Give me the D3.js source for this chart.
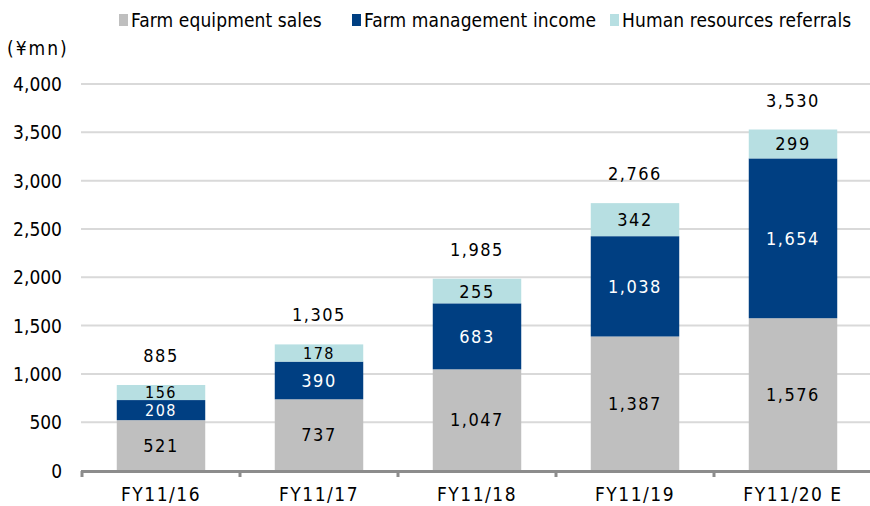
<!DOCTYPE html>
<html>
<head>
<meta charset="utf-8">
<script src="https://cdn.jsdelivr.net/npm/d3@7"></script>
<style>
  body { margin: 0; background: #fff; overflow: hidden; }
  text { font-family: "DejaVu Sans Condensed", "Liberation Sans Narrow", sans-serif; }
</style>
</head>
<body>
<script>
var categories = ["FY11/16", "FY11/17", "FY11/18", "FY11/19", "FY11/20 E"];
var seriesNames = ["Farm equipment sales", "Farm management income", "Human resources referrals"];
var equipment = [521, 737, 1047, 1387, 1576];
var management = [208, 390, 683, 1038, 1654];
var referrals = [156, 178, 255, 342, 299];
var totals = [885, 1305, 1985, 2766, 3530];
var yTicks = [0, 500, 1000, 1500, 2000, 2500, 3000, 3500, 4000];

var colors = ["#bfbfbf", "#003f82", "#b7dfe2"];
var labelColors = ["#000", "#fff", "#000"];

var width = 870, height = 506;
var svg = d3.select("body").append("svg")
    .attr("width", width)
    .attr("height", height);

var x = d3.scaleBand()
    .domain(categories)
    .range([82, 872])
    .paddingInner(0.44)
    .paddingOuter(0.22);

var y = d3.scaleLinear()
    .domain([0, 4000])
    .range([470.5, 84]);

// gridlines
svg.selectAll("line.grid")
    .data(yTicks.slice(1))
    .enter()
    .append("line")
    .attr("x1", 81)
    .attr("x2", width)
    .attr("y1", (d) => y(d))
    .attr("y2", (d) => y(d))
    .attr("stroke", "#d9d9d9")
    .attr("stroke-width", 2);

// y tick labels
svg.selectAll("text.ytick")
    .data(yTicks)
    .enter()
    .append("text")
    .attr("x", 62)
    .attr("y", (d) => y(d) + 7)
    .attr("text-anchor", "end")
    .attr("font-size", "19px")
    .attr("fill", "#000")
    .text((d) => d3.format(",")(d));

svg.append("text")
    .attr("x", 7)
    .attr("y", 55)
    .attr("font-size", "19px")
    .attr("letter-spacing", "2px")
    .text("(¥mn)");

// stacked bars
var table = categories.map((c, i) => ({
    cat: c,
    s0: equipment[i],
    s1: management[i],
    s2: referrals[i]
}));
var stack = d3.stack().keys(["s0", "s1", "s2"])(table);

stack.forEach((layer, k) => {
    svg.selectAll("rect.s" + k)
        .data(layer)
        .enter()
        .append("rect")
        .attr("x", (d) => x(d.data.cat))
        .attr("y", (d) => y(d[1]))
        .attr("width", x.bandwidth())
        .attr("height", (d) => y(d[0]) - y(d[1]))
        .attr("fill", colors[k]);

    // thin segments get a slightly smaller label so neighbours don't collide
    svg.selectAll("text.s" + k)
        .data(layer)
        .enter()
        .append("text")
        .attr("x", (d) => x(d.data.cat) + x.bandwidth() / 2)
        .attr("y", (d) => {
            let h = y(d[0]) - y(d[1]);
            return (y(d[0]) + y(d[1])) / 2 + (h < 22 ? 5.5 : 6.5);
        })
        .attr("text-anchor", "middle")
        .attr("font-size", (d) => (y(d[0]) - y(d[1]) < 22 ? "16px" : "18px"))
        .attr("letter-spacing", "1.5px")
        .attr("fill", labelColors[k])
        .text((d) => d3.format(",")(d[1] - d[0]));
});

// totals
svg.selectAll("text.total")
    .data(totals)
    .enter()
    .append("text")
    .attr("x", (d, i) => x(categories[i]) + x.bandwidth() / 2)
    .attr("y", (d, i) => y(stack[2][i][1]) - 23)
    .attr("text-anchor", "middle")
    .attr("font-size", "18px")
    .attr("letter-spacing", "1.5px")
    .attr("fill", "#000")
    .text((d) => d3.format(",")(d));

// x axis
var step = x.step();
svg.append("line")
    .attr("x1", 81)
    .attr("x2", width)
    .attr("y1", 471.5)
    .attr("y2", 471.5)
    .attr("stroke", "#8c8c8c")
    .attr("stroke-width", 3);

svg.selectAll("line.xtick")
    .data(d3.range(categories.length))
    .enter()
    .append("line")
    .attr("x1", (d) => x(categories[d]) - (step - x.bandwidth()) / 2)
    .attr("x2", (d) => x(categories[d]) - (step - x.bandwidth()) / 2)
    .attr("y1", 471)
    .attr("y2", 477)
    .attr("stroke", "#8c8c8c")
    .attr("stroke-width", 3);

svg.selectAll("text.xlab")
    .data(categories)
    .enter()
    .append("text")
    .attr("x", (d) => x(d) + x.bandwidth() / 2)
    .attr("y", 501)
    .attr("text-anchor", "middle")
    .attr("font-size", "19px")
    .attr("letter-spacing", "1.5px")
    .attr("fill", "#000")
    .text((d) => d);

// legend
var legendX = [119, 352, 610];
seriesNames.forEach((name, k) => {
    svg.append("rect")
        .attr("x", legendX[k])
        .attr("y", 14)
        .attr("width", 9)
        .attr("height", 12)
        .attr("fill", colors[k]);
    svg.append("text")
        .attr("x", legendX[k] + 12)
        .attr("y", 27)
        .attr("font-size", "19px")
        .attr("letter-spacing", "0.1px")
        .attr("fill", "#000")
        .text(name);
});
</script>
</body>
</html>
